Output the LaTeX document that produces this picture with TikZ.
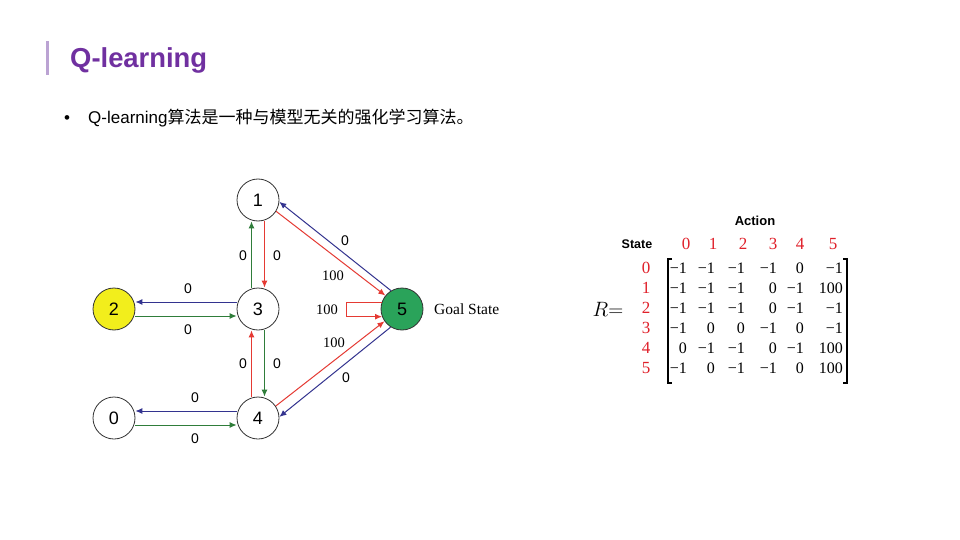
\documentclass[tikz,border=0pt]{standalone}
\usepackage{fontspec}
\setmainfont{Liberation Sans}
\newfontfamily\cjkfont{Noto Sans CJK SC}
\newfontfamily\seriffont{Liberation Serif}
\usetikzlibrary{arrows.meta}

\definecolor{titlepurple}{HTML}{7030A0}
\definecolor{barpurple}{HTML}{BBA3D3}
\definecolor{edgered}{HTML}{E53A33}
\definecolor{edgegreen}{HTML}{2F7D3A}
\definecolor{edgeblue}{HTML}{33338F}
\definecolor{stateyellow}{HTML}{F2EE1C}
\definecolor{goalgreen}{HTML}{2AA35A}
\definecolor{labelred}{HTML}{E0202A}

\begin{document}
\begin{tikzpicture}[x=1pt,y=-1pt,
  state/.style={circle,draw=black!80,line width=0.8pt,minimum size=42pt,
    inner sep=0pt,font=\fontsize{18}{18}\selectfont},
  link/.style={line width=1pt,-{Latex[length=7pt,width=6pt]}},
  rlink/.style={link,draw=edgered},
  glink/.style={link,draw=edgegreen},
  blink/.style={link,draw=edgeblue},
  zlabel/.style={inner sep=0pt,font=\fontsize{14}{14}\selectfont},
  hlabel/.style={inner sep=0pt,font=\seriffont\fontsize{14.5}{14.5}\selectfont},
  hdr/.style={inner sep=0pt,text=labelred,font=\seriffont\fontsize{17}{17}\selectfont},
  entry/.style={inner sep=0pt,font=\seriffont\fontsize{16}{16}\selectfont},
  bracket/.style={line width=1.2pt},
]
\useasboundingbox (0,0) rectangle (960,540);
\fill[white] (0,0) rectangle (960,540);

% heading
\fill[barpurple] (46,41) rectangle (49,75);
\node[anchor=base west,inner sep=0pt,text=titlepurple,
  font=\bfseries\fontsize{27.4}{30}\selectfont] (title) at (70,68) {Q-learning};

% bullet line
\node[anchor=base,inner sep=0pt,font=\fontsize{17}{20}\selectfont] (bullet) at (67,124) {•};
\node[anchor=base west,inner sep=0pt,font=\fontsize{17}{20}\selectfont] (intro) at (88,124)
  {Q-learning{\cjkfont 算法是一种与模型无关的强化学习算法。}};

% states
\node[state] (s1) at (258,200) {1};
\node[state,fill=stateyellow] (s2) at (114,309) {2};
\node[state] (s3) at (258,309) {3};
\node[state,fill=goalgreen] (s5) at (402,309) {5};
\node[state] (s0) at (114,418) {0};
\node[state] (s4) at (258,418) {4};
\node[hlabel,anchor=west,font=\seriffont\fontsize{15.5}{15.5}\selectfont] (goal) at (434,309) {Goal State};

% vertical transitions
\draw[glink] ([xshift=-6.5pt]s3.north) -- ([xshift=-6.5pt]s1.south);
\draw[rlink] ([xshift=6.5pt]s1.south) -- ([xshift=6.5pt]s3.north);
\draw[rlink] ([xshift=-6.5pt]s4.north) -- ([xshift=-6.5pt]s3.south);
\draw[glink] ([xshift=6.5pt]s3.south) -- ([xshift=6.5pt]s4.north);

% horizontal transitions
\draw[blink] ([yshift=7pt]s3.west) -- ([yshift=7pt]s2.east);
\draw[glink] ([yshift=-7pt]s2.east) -- ([yshift=-7pt]s3.west);
\draw[blink] ([yshift=7pt]s4.west) -- ([yshift=7pt]s0.east);
\draw[glink] ([yshift=-7pt]s0.east) -- ([yshift=-7pt]s4.west);

% transitions into and out of the goal
\draw[rlink] (s1.-32) -- (s5.141);
\draw[blink] (s5.121) -- (s1.-5);
\draw[rlink] (s4.34) -- (s5.-145);
\draw[blink] (s5.-122) -- (s4.3);
\draw[rlink] (s5.162) -- ++(-35,0) |- (s5.-159);

% rewards
\node[zlabel] (r31) at (243,256) {0};
\node[zlabel] (r13) at (277,256) {0};
\node[zlabel] (r32) at (188,289) {0};
\node[zlabel] (r23) at (188,330) {0};
\node[zlabel] (r43) at (243,364) {0};
\node[zlabel] (r34) at (277,364) {0};
\node[zlabel] (r40) at (195,398) {0};
\node[zlabel] (r04) at (195,439) {0};
\node[zlabel] (r51) at (345,241) {0};
\node[hlabel] (r15) at (333,276) {100};
\node[hlabel] (r55) at (327,310) {100};
\node[hlabel] (r45) at (334,343) {100};
\node[zlabel] (r54) at (346,378) {0};

% reward matrix
\node[inner sep=0pt,font=\bfseries\fontsize{13}{13}\selectfont] (action) at (755,221) {Action};
\node[inner sep=0pt,font=\bfseries\fontsize{12.5}{13}\selectfont] (statehdr) at (637,244) {State};
\foreach \c/\x in {0/686,1/713,2/743,3/773,4/800,5/833}
  \node[hdr,anchor=base] (col\c) at (\x,249) {\c};
\foreach \r in {0,...,5}
  \node[hdr,anchor=base] (row\r) at (646,{273+20*\r}) {\r};
\node[inner sep=0pt,font=\fontsize{21}{21}\selectfont] (rname) at (608,309) {$R{=}$};

\def\colx{{687,715,745,777,804,843}}
\foreach \r/\vals in {0/{−1,−1,−1,−1,0,−1},
                      1/{−1,−1,−1,0,−1,100},
                      2/{−1,−1,−1,0,−1,−1},
                      3/{−1,0,0,−1,0,−1},
                      4/{0,−1,−1,0,−1,100},
                      5/{−1,0,−1,−1,0,100}}
  \foreach \v [count=\c from 0] in \vals {
    \pgfmathsetmacro\xx{\colx[\c]}
    \node[entry,anchor=base east] (m\r\c) at (\xx,{273+20*\r}) {\v};
  }

\draw[bracket] (672,259) -- (668,259) -- (668,383) -- (672,383);
\draw[bracket] (843,259) -- (847,259) -- (847,383) -- (843,383);
\end{tikzpicture}
\end{document}
